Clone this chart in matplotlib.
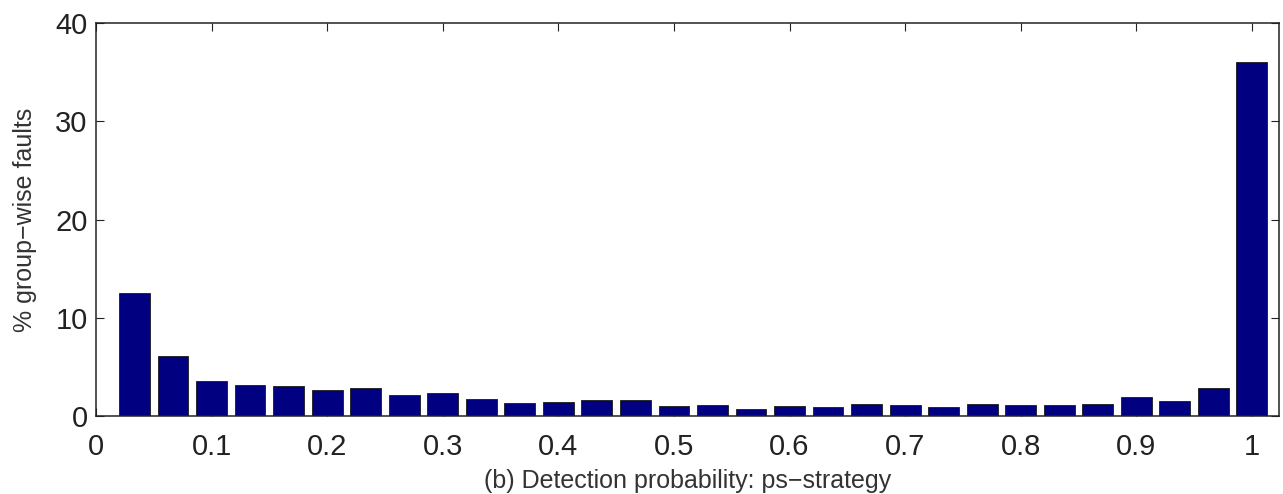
import matplotlib
matplotlib.use("Agg")
import matplotlib.pyplot as plt
import numpy as np

# histogram bins of detection probability (30 bins, centred at k/30)
bin_index = np.arange(1, 31)
pct_faults = [12.5, 6.1, 3.6, 3.15, 3.05, 2.6, 2.8, 2.15, 2.3, 1.7,
              1.3, 1.45, 1.6, 1.6, 1.0, 1.15, 0.75, 1.05, 0.95, 1.2,
              1.1, 0.95, 1.25, 1.15, 1.1, 1.25, 1.9, 1.5, 2.85, 36.0]
x_ticks = [0, 0.1, 0.2, 0.3, 0.4, 0.5, 0.6, 0.7, 0.8, 0.9, 1.0]
x_tick_labels = ["0", "0.1", "0.2", "0.3", "0.4", "0.5", "0.6", "0.7", "0.8", "0.9", "1"]
y_ticks = [0, 10, 20, 30, 40]

plt.rcParams["font.family"] = ["Liberation Sans", "DejaVu Sans"]

fig = plt.figure(figsize=(12.83, 4.94), dpi=100)
ax = fig.add_axes([0.0748, 0.158, 0.9221, 0.795])

centers = bin_index / 30.0
ax.bar(centers, pct_faults, width=0.8 / 30.0, color="#000080",
       edgecolor="#1a1a1a", linewidth=0.6, zorder=2)

ax.set_xlim(0, 1.0235)
ax.set_ylim(0, 40)
ax.set_xticks(x_ticks)
ax.set_xticklabels(x_tick_labels)
ax.set_yticks(y_ticks)
ax.tick_params(direction="in", length=6, width=0.8, labelsize=21,
               top=True, right=True, colors="#222222")
ax.tick_params(axis="x", pad=12)
ax.tick_params(axis="y", pad=6)
for s in ax.spines.values():
    s.set_linewidth(1.1)
    s.set_color("#222222")

ax.set_xlabel("(b) Detection probability: ps\u2212strategy", fontsize=18, color="#333333")
ax.xaxis.set_label_coords(0.5, -0.136)
ax.set_ylabel("% group\u2212wise faults", fontsize=18, color="#333333")
ax.yaxis.set_label_coords(-0.05, 0.5)

fig.savefig("out.png", dpi=100)
